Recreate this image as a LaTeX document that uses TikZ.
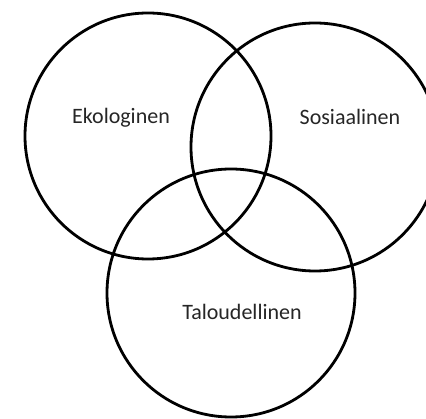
\documentclass[tikz,border=0pt]{standalone}
\usepackage{fontspec}
\setmainfont{Carlito}
\begin{document}
\begin{tikzpicture}[x=1pt,y=-1pt,
  ring/.style={draw=black,line width=2.8pt,circle,minimum size=#1,inner sep=0pt},
  lbl/.style={font=\fontsize{22}{25}\selectfont,text=black!85}]
\fill[white] (0,0) rectangle (426,419);
\useasboundingbox (0,0) rectangle (426,419);
\begin{scope}
\clip (0,0) rectangle (426,419);
\node[ring=246pt] (eko) at (148,136) {};
\node[ring=248pt] (sos) at (315,147) {};
\node[ring=248pt] (tal) at (231,293) {};
\end{scope}
\node[lbl] (teko) at (121,118) {Ekologinen};
\node[lbl] (tsos) at (350,117) {Sosiaalinen};
\node[lbl] (ttal) at (242,312) {Taloudellinen};
\end{tikzpicture}
\end{document}
